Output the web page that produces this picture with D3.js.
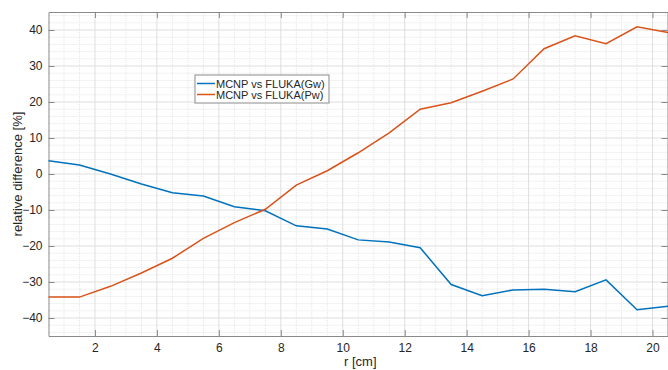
<!DOCTYPE html>
<html>
<head>
<meta charset="utf-8">
<script src="https://cdn.jsdelivr.net/npm/d3@7"></script>
<style>
  body { margin: 0; background: #fff; }
  text { font-family: "Liberation Sans", Arial, sans-serif; fill: #262626; }
</style>
</head>
<body>
<div id="graph"></div>
<script>
// radial positions (bin centres) and the two comparisons
const rValues = [0.5, 1.5, 2.5, 3.5, 4.5, 5.5, 6.5, 7.5, 8.5, 9.5, 10.5,
  11.5, 12.5, 13.5, 14.5, 15.5, 16.5, 17.5, 18.5, 19.5, 20.5];
const gwDiff = [3.7, 2.5, 0, -2.8, -5.2, -6.1, -9.1, -10.2, -14.4, -15.3, -18.3,
  -18.9, -20.5, -30.7, -33.8, -32.2, -32.0, -32.7, -29.4, -37.7, -36.7];
const pwDiff = [-34.2, -34.2, -31.2, -27.5, -23.4, -17.9, -13.5, -9.8, -3.1, 0.9, 5.9,
  11.4, 18.0, 19.8, 23.0, 26.4, 34.8, 38.4, 36.2, 40.9, 39.3];
const seriesNames = ['MCNP vs FLUKA(Gw)', 'MCNP vs FLUKA(Pw)'];
const xTicks = [2, 4, 6, 8, 10, 12, 14, 16, 18, 20];
const yTicks = [-40, -30, -20, -10, 0, 10, 20, 30, 40];

const svgWidth = 668;
const svgHeight = 370;
const margin = { top: 12, right: 0, bottom: 34, left: 48.5 };
const w = svgWidth - margin.left - margin.right;
const h = svgHeight - margin.top - margin.bottom;

const svg = d3.select('#graph')
  .append('svg')
  .attr('width', svgWidth)
  .attr('height', svgHeight);

const g = svg.append('g')
  .attr('transform', `translate(${margin.left}, ${margin.top})`);

const x = d3.scaleLinear().domain([0.5, 20.5]).range([0, w]);
const y = d3.scaleLinear().domain([-45, 45]).range([h, 0]);

// minor grid
g.append('g').selectAll('line')
  .data(d3.range(1, 20.5, 0.5).filter(v => v % 2 !== 0))
  .join('line')
  .attr('x1', d => x(d)).attr('x2', d => x(d))
  .attr('y1', 0).attr('y2', h)
  .attr('stroke', '#e4e4e4').attr('stroke-dasharray', '1,1');
g.append('g').selectAll('line')
  .data(d3.range(-44, 45, 2).filter(v => v % 10 !== 0))
  .join('line')
  .attr('x1', 0).attr('x2', w)
  .attr('y1', d => y(d)).attr('y2', d => y(d))
  .attr('stroke', '#e4e4e4').attr('stroke-dasharray', '1,1');

// major grid
g.append('g').selectAll('line')
  .data(xTicks)
  .join('line')
  .attr('x1', d => x(d)).attr('x2', d => x(d))
  .attr('y1', 0).attr('y2', h)
  .attr('stroke', '#dedede');
g.append('g').selectAll('line')
  .data(yTicks)
  .join('line')
  .attr('x1', 0).attr('x2', w)
  .attr('y1', d => y(d)).attr('y2', d => y(d))
  .attr('stroke', '#dedede');

// axes (ticks pointing inward, box on)
const axisColor = '#8a8a8a';
function styleAxis(sel, showText) {
  sel.select('.domain').attr('stroke', axisColor);
  sel.selectAll('.tick line').attr('stroke', axisColor);
  sel.selectAll('.tick text')
    .attr('font-size', 12)
    .attr('fill', '#262626')
    .style('display', showText ? null : 'none');
}
g.append('g')
  .attr('transform', `translate(0, ${h})`)
  .call(d3.axisBottom(x).tickValues(xTicks).tickSizeInner(-6).tickSizeOuter(0).tickPadding(7))
  .call(s => styleAxis(s, true));
g.append('g')
  .call(d3.axisTop(x).tickValues(xTicks).tickSizeInner(-6).tickSizeOuter(0))
  .call(s => styleAxis(s, false));
g.append('g')
  .call(d3.axisLeft(y).tickValues(yTicks).tickSizeInner(-6).tickSizeOuter(0).tickPadding(6))
  .call(s => styleAxis(s, true));
g.append('g')
  .attr('transform', `translate(${w - 0.5}, 0)`)
  .call(d3.axisRight(y).tickValues(yTicks).tickSizeInner(-6).tickSizeOuter(0))
  .call(s => styleAxis(s, false));

// lines
const line = d3.line()
  .x((d, i) => x(rValues[i]))
  .y(d => y(d));
const colors = ['#0072BD', '#D95319'];
[gwDiff, pwDiff].forEach((vals, k) => {
  g.append('path')
    .attr('d', line(vals))
    .attr('fill', 'none')
    .attr('stroke', colors[k])
    .attr('stroke-width', 1.5);
});

// axis labels
svg.append('text')
  .attr('x', margin.left + w / 2 + 2)
  .attr('y', 366)
  .attr('text-anchor', 'middle')
  .attr('font-size', 13)
  .text('r [cm]');
svg.append('text')
  .attr('transform', `translate(22, ${margin.top + h / 2}) rotate(-90)`)
  .attr('text-anchor', 'middle')
  .attr('font-size', 13)
  .text('relative difference [%]');

// legend
const legend = svg.append('g').attr('transform', 'translate(195, 75)');
legend.append('rect')
  .attr('width', 134).attr('height', 28)
  .attr('fill', '#fff')
  .attr('stroke', '#8a8a8a');
seriesNames.forEach((name, k) => {
  const ly = 8.5 + k * 11;
  legend.append('line')
    .attr('x1', 2).attr('x2', 20)
    .attr('y1', ly).attr('y2', ly)
    .attr('stroke', colors[k]).attr('stroke-width', 1.5);
  legend.append('text')
    .attr('x', 21).attr('y', ly + 4)
    .attr('font-size', 11)
    .text(name);
});
</script>
</body>
</html>
